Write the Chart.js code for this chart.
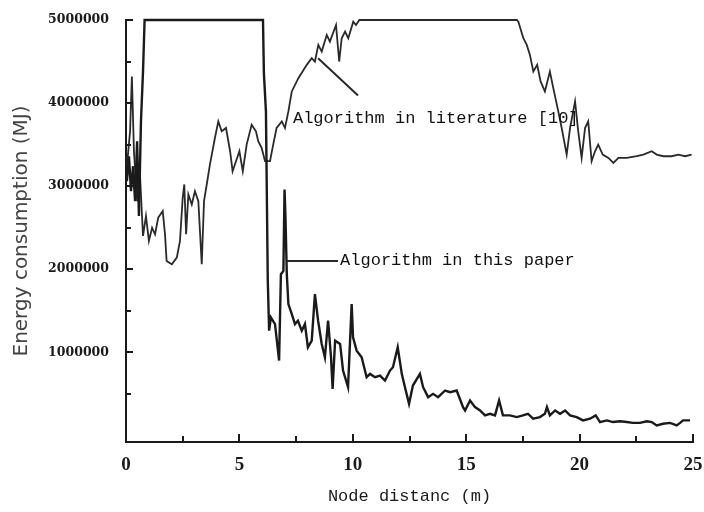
<!DOCTYPE html>
<html lang="en">
<head>
    <meta charset="UTF-8">
    <title>Energy consumption vs node distance</title>
    <script src="https://cdn.jsdelivr.net/npm/chart.js"></script>
    <style>
        body { margin: 0; background: #ffffff; }
        #chart { display: block; }
    </style>
</head>
<body>
    <canvas id="chart" width="704" height="512"></canvas>
    <script>
        // values
        const xTicks = [0, 5, 10, 15, 20, 25];
        const xMinorTicks = [2.5, 7.5, 12.5, 17.5, 22.5];
        const yTicks = [1000000, 2000000, 3000000, 4000000, 5000000];
        const yMinorTicks = [500000, 1500000, 2500000, 3500000, 4500000];

        const paperX = [0.04, 0.13, 0.22, 0.31, 0.40, 0.49, 0.57, 0.66, 0.75, 0.82,
            6.04, 6.08, 6.17, 6.25, 6.31, 6.39, 6.57, 6.75, 6.83, 6.94,
            6.99, 7.03, 7.09, 7.16, 7.31, 7.45, 7.58, 7.75, 7.89, 8.02,
            8.19, 8.33, 8.47, 8.63, 8.77, 8.91, 9.04, 9.11, 9.22, 9.44,
            9.57, 9.79, 9.95, 10.01, 10.17, 10.39, 10.61, 10.76, 10.98, 11.20,
            11.42, 11.64, 11.77, 11.98, 12.16, 12.30, 12.48, 12.65, 12.96, 13.10,
            13.32, 13.54, 13.76, 14.07, 14.29, 14.58, 14.86, 14.95, 15.17, 15.39,
            15.61, 15.83, 16.05, 16.27, 16.45, 16.62, 16.93, 17.23, 17.50, 17.72,
            17.95, 18.25, 18.47, 18.56, 18.69, 18.92, 19.14, 19.36, 19.58, 19.87,
            20.15, 20.46, 20.71, 20.90, 21.20, 21.47, 21.78, 22.08, 22.35, 22.66,
            22.96, 23.18, 23.40, 23.68, 23.99, 24.28, 24.43, 24.56, 24.87];
        const paperY = [3060000, 3360000, 2940000, 3240000, 2820000, 3540000, 2640000, 3780000, 4380000, 5000000,
            5000000, 4360000, 3900000, 1880000, 1260000, 1420000, 1340000, 900000, 1940000, 1980000,
            2960000, 2640000, 1940000, 1580000, 1460000, 1340000, 1380000, 1260000, 1340000, 1060000,
            1140000, 1700000, 1380000, 1100000, 940000, 1380000, 940000, 560000, 1140000, 1100000,
            780000, 580000, 1580000, 1180000, 1020000, 940000, 700000, 740000, 700000, 720000,
            660000, 780000, 820000, 1060000, 740000, 580000, 380000, 600000, 740000, 580000,
            460000, 500000, 460000, 540000, 520000, 540000, 340000, 300000, 420000, 340000,
            300000, 240000, 260000, 240000, 420000, 240000, 240000, 220000, 240000, 260000,
            200000, 220000, 260000, 340000, 240000, 300000, 260000, 300000, 240000, 220000,
            180000, 200000, 240000, 160000, 180000, 160000, 170000, 160000, 150000, 150000,
            170000, 160000, 120000, 140000, 150000, 120000, 150000, 180000, 180000];

        const litX = [0.04, 0.18, 0.26, 0.35, 0.49, 0.62, 0.75, 0.88, 1.01, 1.15,
            1.28, 1.42, 1.62, 1.72, 1.79, 2.02, 2.24, 2.38, 2.50, 2.57,
            2.65, 2.75, 2.90, 3.04, 3.19, 3.34, 3.44, 3.56, 3.70, 3.92,
            4.07, 4.22, 4.41, 4.59, 4.70, 4.85, 5.00, 5.15, 5.32, 5.54,
            5.73, 5.83, 5.98, 6.13, 6.35, 6.49, 6.64, 6.87, 7.01, 7.16,
            7.31, 7.60, 7.97, 8.19, 8.33, 8.48, 8.63, 8.85, 8.99, 9.26,
            9.40, 9.51, 9.66, 9.80, 10.02, 10.14, 10.29, 10.46, 17.23, 17.30,
            17.52, 17.67, 17.81, 17.96, 18.13, 18.28, 18.47, 18.69, 18.84, 19.06,
            19.21, 19.43, 19.58, 19.80, 19.94, 20.09, 20.24, 20.38, 20.53, 20.68,
            20.82, 21.02, 21.27, 21.49, 21.71, 22.08, 22.52, 22.81, 23.18, 23.40,
            23.69, 24.06, 24.35, 24.65, 24.94];
        const litY = [3240000, 3660000, 4320000, 3420000, 2820000, 3120000, 2400000, 2640000, 2340000, 2500000,
            2420000, 2620000, 2700000, 2420000, 2100000, 2060000, 2140000, 2340000, 2860000, 3020000,
            2420000, 2900000, 2780000, 2940000, 2820000, 2060000, 2820000, 3020000, 3260000, 3580000,
            3780000, 3660000, 3700000, 3420000, 3180000, 3300000, 3420000, 3180000, 3500000, 3740000,
            3660000, 3540000, 3460000, 3300000, 3300000, 3500000, 3700000, 3780000, 3700000, 3900000,
            4140000, 4300000, 4460000, 4540000, 4500000, 4700000, 4620000, 4820000, 4740000, 4940000,
            4500000, 4780000, 4860000, 4780000, 4980000, 4940000, 5000000, 5000000, 5000000, 4980000,
            4780000, 4700000, 4580000, 4380000, 4460000, 4260000, 4140000, 4380000, 4180000, 3900000,
            3700000, 3380000, 3700000, 4020000, 3660000, 3340000, 3700000, 3780000, 3300000, 3420000,
            3500000, 3380000, 3340000, 3280000, 3340000, 3340000, 3360000, 3380000, 3420000, 3380000,
            3360000, 3360000, 3380000, 3360000, 3380000];

        const ink = '#1a1a1a';

        function toPoints(xs, ys) {
            return xs.map((x, i) => ({ x: x, y: ys[i] }));
        }

        // inward tick marks, like the original plot
        const innerTicks = {
            id: 'innerTicks',
            afterDraw(chart) {
                const ctx = chart.ctx;
                const xs = chart.scales.x, ys = chart.scales.y;
                const area = chart.chartArea;
                ctx.save();
                ctx.strokeStyle = ink;
                ctx.lineWidth = 2;
                ctx.beginPath();
                xTicks.concat(xMinorTicks).forEach(v => {
                    const px = Math.round(xs.getPixelForValue(v));
                    const len = xTicks.includes(v) ? 8 : 6;
                    ctx.moveTo(px, area.bottom);
                    ctx.lineTo(px, area.bottom - len);
                });
                yTicks.concat(yMinorTicks).forEach(v => {
                    const py = Math.round(ys.getPixelForValue(v));
                    const len = yTicks.includes(v) ? 7 : 5;
                    ctx.moveTo(area.left, py);
                    ctx.lineTo(area.left + len, py);
                });
                ctx.stroke();
                ctx.restore();
            }
        };

        // the two callouts
        const callouts = {
            id: 'callouts',
            afterDatasetsDraw(chart) {
                const ctx = chart.ctx;
                const xs = chart.scales.x, ys = chart.scales.y;
                const X = v => xs.getPixelForValue(v);
                const Y = v => ys.getPixelForValue(v);
                ctx.save();
                ctx.strokeStyle = '#2a2a2a';
                ctx.lineWidth = 2;
                ctx.beginPath();
                ctx.moveTo(X(8.47), Y(4540000));
                ctx.lineTo(X(10.23), Y(4090000));
                ctx.moveTo(X(7.1), Y(2100000));
                ctx.lineTo(X(9.35), Y(2100000));
                ctx.stroke();
                ctx.fillStyle = '#111';
                ctx.font = '17px "Liberation Mono"';
                ctx.textBaseline = 'middle';
                ctx.textAlign = 'left';
                ctx.fillText('Algorithm in literature [10]', X(7.36), Y(3820000));
                ctx.fillText('Algorithm in this paper', X(9.44), Y(2100000));
                ctx.restore();
            }
        };

        new Chart(document.getElementById('chart'), {
            type: 'line',
            data: {
                datasets: [{
                    label: 'Algorithm in this paper',
                    data: toPoints(paperX, paperY),
                    borderColor: ink,
                    borderWidth: 2.4,
                    pointRadius: 0,
                    tension: 0,
                    clip: false
                }, {
                    label: 'Algorithm in literature [10]',
                    data: toPoints(litX, litY),
                    borderColor: '#2a2a2a',
                    borderWidth: 1.8,
                    pointRadius: 0,
                    tension: 0,
                    clip: false
                }]
            },
            options: {
                responsive: false,
                animation: false,
                devicePixelRatio: 1,
                layout: { padding: { top: 20, right: 11, left: 0, bottom: 0 } },
                plugins: {
                    legend: { display: false },
                    tooltip: { enabled: false }
                },
                scales: {
                    x: {
                        type: 'linear',
                        min: 0,
                        max: 25,
                        afterBuildTicks: s => { s.ticks = xTicks.map(v => ({ value: v })); },
                        afterFit: s => { s.height = 70; s.paddingLeft = 0; s.paddingRight = 0; },
                        grid: { display: true, drawOnChartArea: false, drawTicks: false },
                        border: { display: true, color: ink, width: 2 },
                        ticks: {
                            color: ink,
                            padding: 12,
                            maxRotation: 0,
                            font: { family: '"Liberation Serif"', size: 19, weight: 'bold' }
                        },
                        title: {
                            display: true,
                            text: 'Node distanc (m)',
                            color: ink,
                            padding: { top: 0, bottom: 5 },
                            font: { family: '"Liberation Mono"', size: 17 }
                        }
                    },
                    y: {
                        type: 'linear',
                        min: -80000,
                        max: 5000000,
                        afterBuildTicks: s => { s.ticks = yTicks.map(v => ({ value: v })); },
                        afterFit: s => { s.width = 126; s.paddingTop = 0; s.paddingBottom = 0; },
                        grid: { display: true, drawOnChartArea: false, drawTicks: false },
                        border: { display: true, color: ink, width: 2 },
                        ticks: {
                            color: ink,
                            padding: 17,
                            callback: v => String(v),
                            font: { family: '"DejaVu Serif"', size: 12.5, weight: 'bold' }
                        },
                        title: {
                            display: true,
                            text: 'Energy consumption (MJ)',
                            color: '#444',
                            padding: { top: 10, bottom: 0 },
                            font: { family: '"DejaVu Sans"', size: 20 }
                        }
                    }
                }
            },
            plugins: [innerTicks, callouts]
        });
    </script>
</body>
</html>
